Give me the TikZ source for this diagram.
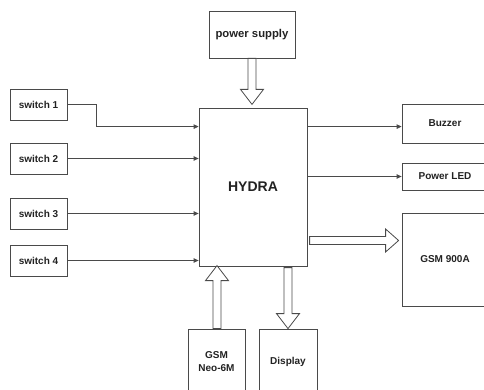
\documentclass[tikz,border=0pt]{standalone}
\usepackage{fontspec}
\setmainfont{Liberation Sans}
\usetikzlibrary{arrows.meta,calc}
\definecolor{ln}{HTML}{4A4A4A}
\definecolor{tx}{HTML}{222222}
\begin{document}
\begin{tikzpicture}[x=1pt,y=-1pt,
  box/.style={draw=ln,line width=0.8pt,inner sep=0pt,font=\bfseries\fontsize{10}{13}\selectfont,text=tx,align=center},
  arr/.style={draw=ln,line width=0.8pt,-{Triangle[length=5pt,width=4.5pt]}},
  fat/.style={draw=ln,line width=0.8pt,fill=white,line join=miter}]
\useasboundingbox (0,0) rectangle (484,390);
% nodes
\node[box,minimum width=86pt,minimum height=47pt,font=\bfseries\fontsize{11.3}{13}\selectfont] (ps) at (252,34.5) {power supply};
\node[box,minimum width=108pt,minimum height=158pt,font=\bfseries\fontsize{14}{16}\selectfont] (hy) at (253,187) {HYDRA};
\node[box,minimum width=57pt,minimum height=31pt] (s1) at (38.5,104.5) {switch 1};
\node[box,minimum width=57pt,minimum height=31pt] (s2) at (38.5,158.5) {switch 2};
\node[box,minimum width=57pt,minimum height=31pt] (s3) at (38.5,213.5) {switch 3};
\node[box,minimum width=57pt,minimum height=31pt] (s4) at (38.5,260.5) {switch 4};
\node[box,minimum width=86pt,minimum height=39pt] (bz) at (445,123.5) {Buzzer};
\node[box,minimum width=86pt,minimum height=27pt] (led) at (445,176.5) {Power LED};
\node[box,minimum width=86pt,minimum height=93pt] (gsm) at (445,259.5) {GSM 900A};
\node[box,minimum width=57pt,minimum height=66pt] (neo) at (216.5,362) {GSM\\Neo-6M};
\node[box,minimum width=58pt,minimum height=66pt] (disp) at (288,362) {Display};
% thin connectors
\coordinate (h1) at ($(hy.north west)+(0,19)$);
\draw[arr] (s1.east) -- ++(29,0) |- (h1);
\draw[arr] (s2.east) -- (s2.east -| hy.west);
\draw[arr] (s3.east) -- (s3.east -| hy.west);
\draw[arr] (s4.east) -- (s4.east -| hy.west);
\coordinate (h2) at ($(hy.north east)+(0,19)$);
\draw[arr] (h2) -- (h2 -| bz.west);
\draw[arr] (hy.east |- led.west) -- (led.west);
% fat arrows
\draw[fat] ([xshift=-4pt]ps.south) -- ++(0,31) -- ++(-7.5,0) -- ++(11.5,15) -- ++(11.5,-15) -- ++(-7.5,0) -- ++(0,-31) -- cycle;
\draw[fat] ([xshift=0.5pt]neo.north) ++(-4,0) -- ++(0,-48) -- ++(-7.5,0) -- ++(11.5,-15) -- ++(11.5,15) -- ++(-7.5,0) -- ++(0,48) -- cycle;
\draw[fat] (disp.north) -- ++(-11.5,-15) -- ++(7.5,0) -- ++(0,-46) -- ++(8,0) -- ++(0,46) -- ++(7.5,0) -- cycle;
\draw[fat] ([xshift=-3pt,yshift=19pt]gsm.west) -- ++(-13,-11.5) -- ++(0,7.5) -- ++(-76,0) -- ++(0,8) -- ++(76,0) -- ++(0,7.5) -- cycle;
\end{tikzpicture}
\end{document}
